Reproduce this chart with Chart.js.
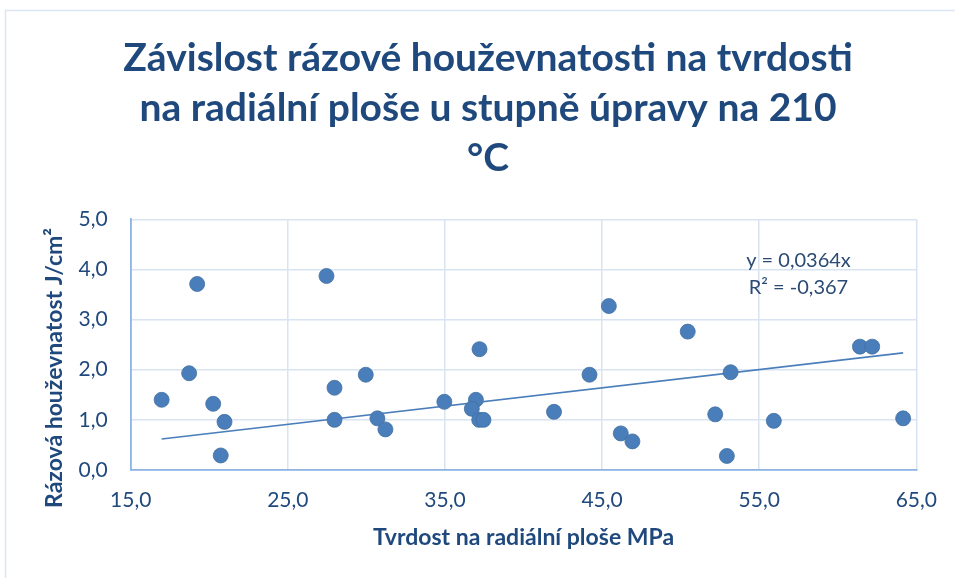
<!DOCTYPE html>
<html>
<head>
<meta charset="utf-8">
<script src="https://cdn.jsdelivr.net/npm/chart.js@4.4.1/dist/chart.umd.min.js"></script>
<style>
    html, body { margin: 0; padding: 0; background: #ffffff; }
    #wrap { width: 955px; height: 578px; }
</style>
</head>
<body>
<div id="wrap"><canvas id="chart" width="955" height="578"></canvas></div>
<script>
// Hardness on the radial surface (MPa) vs impact toughness (J/cm2)
const hardness = [
    16.97, 19.23, 18.72, 20.25, 20.97, 20.73, 27.46, 27.97, 27.97, 29.96, 30.70,
    31.21, 34.96, 36.97, 36.71, 37.18, 37.45, 37.20, 41.94, 44.20, 45.43, 46.19,
    46.93, 50.45, 52.20, 53.18, 52.94, 55.93, 61.41, 62.19, 64.16
];
const toughness = [
    1.40, 3.71, 1.93, 1.32, 0.96, 0.29, 3.87, 1.64, 1.00, 1.90, 1.03,
    0.81, 1.36, 1.40, 1.22, 1.00, 1.00, 2.41, 1.16, 1.90, 3.27, 0.73,
    0.57, 2.76, 1.11, 1.95, 0.28, 0.98, 2.46, 2.46, 1.03
];
const trendSlope = 0.0364;
const trendR2 = -0.367;
const xTicks = [15, 25, 35, 45, 55, 65];
const yTicks = [0, 1, 2, 3, 4, 5];

const titleLines = [
    'Závislost rázové houževnatosti na tvrdosti',
    'na radiální ploše u stupně úpravy na 210',
    '°C'
];
const xTitle = 'Tvrdost na radiální ploše MPa';
const yTitle = 'Rázová houževnatost J/cm²';

const FONT = 'Lato, "Open Sans", sans-serif';
const DARK = '#1F497D';
const BLUE = '#4A7EBB';

const comma = (v, d) => v.toFixed(d).replace('.', ',');

const points = hardness.map((x, i) => ({ x: x, y: toughness[i] }));
const minX = Math.min(...hardness);
const maxX = Math.max(...hardness);
const trend = [
    { x: minX, y: trendSlope * minX },
    { x: maxX, y: trendSlope * maxX }
];

// outer frame, y title and trendline label
const extras = {
    id: 'extras',
    beforeDraw(chart) {
        const ctx = chart.ctx;
        ctx.save();
        ctx.strokeStyle = '#DCE6F2';
        ctx.lineWidth = 1.5;
        ctx.beginPath();
        ctx.moveTo(5.5, 578);
        ctx.lineTo(5.5, 10.5);
        ctx.lineTo(955, 10.5);
        ctx.stroke();
        ctx.restore();
    },
    afterDraw(chart) {
        const ctx = chart.ctx;
        const xs = chart.scales.x, ys = chart.scales.y;
        ctx.save();
        ctx.fillStyle = DARK;
        ctx.font = 'bold 23px ' + FONT;
        ctx.textAlign = 'center';
        ctx.textBaseline = 'middle';
        ctx.translate(55, 368);
        ctx.rotate(-Math.PI / 2);
        ctx.fillText(yTitle, 0, 0);
        ctx.restore();

        ctx.save();
        ctx.fillStyle = '#2B4A75';
        ctx.font = '20px ' + FONT;
        ctx.textAlign = 'center';
        ctx.textBaseline = 'middle';
        const lx = xs.getPixelForValue(57.5);
        ctx.fillText('y = ' + comma(trendSlope, 4) + 'x', lx, ys.getPixelForValue(4.17));
        ctx.fillText('R² = ' + comma(trendR2, 3), lx, ys.getPixelForValue(3.64));
        ctx.restore();
    }
};

new Chart(document.getElementById('chart'), {
    type: 'scatter',
    data: {
        datasets: [
            {
                label: 'data',
                data: points,
                pointRadius: 7.5,
                pointHoverRadius: 7.5,
                backgroundColor: BLUE,
                borderColor: '#41709F',
                borderWidth: 0.8,
                order: 1
            },
            {
                label: 'trend',
                data: trend,
                showLine: true,
                pointRadius: 0,
                borderColor: BLUE,
                borderWidth: 1.6,
                fill: false,
                order: 2
            }
        ]
    },
    options: {
        responsive: false,
        animation: false,
        events: [],
        layout: { padding: { left: 58.7, right: 37.7, top: 10, bottom: 20 } },
        plugins: {
            legend: { display: false },
            tooltip: { enabled: false },
            title: {
                display: true,
                text: titleLines,
                color: DARK,
                font: { family: FONT, size: 39, weight: 'bold', lineHeight: 50 / 39 },
                padding: { top: 23, bottom: 36.3 }
            }
        },
        scales: {
            x: {
                type: 'linear',
                min: xTicks[0],
                max: xTicks[xTicks.length - 1],
                afterBuildTicks: s => { s.ticks = xTicks.map(v => ({ value: v })); },
                afterFit: s => { s.height = 578 - 470 - 20; },
                ticks: {
                    color: DARK,
                    font: { family: FONT, size: 21 },
                    padding: 18,
                    maxRotation: 0,
                    callback: v => comma(v, 1)
                },
                grid: { color: '#D9E4F2', lineWidth: 1.5, drawTicks: false },
                border: { color: '#8EB4E3', width: 1.8 },
                title: {
                    display: true,
                    text: xTitle,
                    color: DARK,
                    font: { family: FONT, size: 23, weight: 'bold' },
                    padding: { top: 0, bottom: 6.7 }
                }
            },
            y: {
                type: 'linear',
                min: yTicks[0],
                max: yTicks[yTicks.length - 1],
                afterBuildTicks: s => { s.ticks = yTicks.map(v => ({ value: v })); },
                afterFit: s => { s.width = 130.7 - 58.7; },
                ticks: {
                    color: DARK,
                    font: { family: FONT, size: 21 },
                    padding: 23,
                    callback: v => comma(v, 1)
                },
                grid: { color: '#D9E4F2', lineWidth: 1.5, drawTicks: false },
                border: { color: '#8EB4E3', width: 1.8 }
            }
        }
    },
    plugins: [extras]
});
</script>
</body>
</html>
